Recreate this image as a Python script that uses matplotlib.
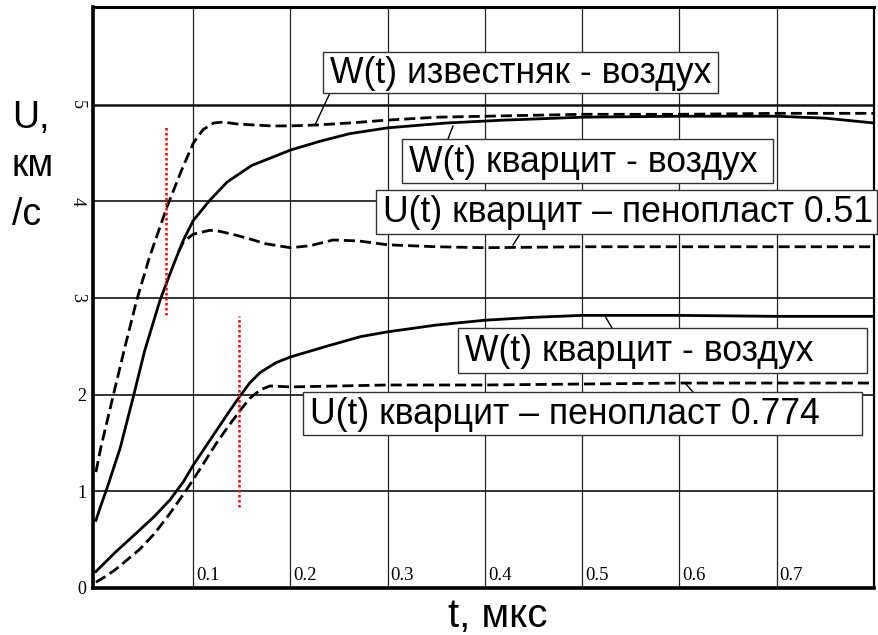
import matplotlib
matplotlib.use("Agg")
import matplotlib.pyplot as plt
from matplotlib.patches import Rectangle
from matplotlib.lines import Line2D

plt.rcParams["font.family"] = ["Liberation Sans", "DejaVu Sans"]

# W(t) limestone - air (dashed)
t_lime = [0, 0.005, 0.018, 0.030, 0.042, 0.055, 0.073, 0.088, 0.100, 0.110, 0.121,
          0.131, 0.145, 0.162, 0.180, 0.200, 0.228, 0.26, 0.30, 0.35, 0.40, 0.45,
          0.50, 0.60, 0.70, 0.80]
u_lime = [1.2, 1.45, 2.0, 2.5, 2.98, 3.42, 3.94, 4.32, 4.60, 4.74, 4.81,
          4.82, 4.80, 4.79, 4.78, 4.78, 4.79, 4.81, 4.84, 4.87, 4.88, 4.89,
          4.90, 4.90, 4.91, 4.91]

# W(t) quartzite - air, upper (solid)
t_qa1 = [0, 0.005, 0.012, 0.025, 0.039, 0.05, 0.066, 0.08, 0.09, 0.10, 0.117,
         0.135, 0.16, 0.20, 0.23, 0.261, 0.30, 0.36, 0.42, 0.50, 0.60, 0.70,
         0.75, 0.80]
u_qa1 = [0.7, 0.85, 1.05, 1.45, 2.0, 2.45, 2.98, 3.35, 3.6, 3.80, 4.01,
         4.2, 4.37, 4.53, 4.62, 4.70, 4.76, 4.81, 4.84, 4.87, 4.88, 4.88,
         4.86, 4.81]

# U(t) quartzite - foam 0.51 (dashed, branches off the solid curve)
t_qf1 = [0.085, 0.09, 0.10, 0.117, 0.127, 0.14, 0.155, 0.175, 0.20, 0.22,
         0.244, 0.27, 0.30, 0.35, 0.40, 0.50, 0.60, 0.70, 0.80]
u_qf1 = [3.48, 3.58, 3.66, 3.70, 3.69, 3.66, 3.62, 3.56, 3.52, 3.54,
         3.60, 3.59, 3.55, 3.53, 3.52, 3.53, 3.53, 3.53, 3.53]

# W(t) quartzite - air, lower (solid)
t_qa2 = [0, 0.01, 0.02, 0.032, 0.045, 0.06, 0.076, 0.09, 0.10, 0.112, 0.124,
         0.136, 0.147, 0.158, 0.169, 0.185, 0.20, 0.237, 0.272, 0.30, 0.35,
         0.40, 0.45, 0.50, 0.55, 0.60, 0.70, 0.80]
u_qa2 = [0.17, 0.27, 0.37, 0.48, 0.60, 0.74, 0.91, 1.10, 1.27, 1.45, 1.63,
         1.81, 1.97, 2.12, 2.23, 2.33, 2.39, 2.50, 2.60, 2.65, 2.72,
         2.77, 2.80, 2.82, 2.82, 2.82, 2.81, 2.81]

# U(t) quartzite - foam 0.774 (dashed)
t_qf2 = [0, 0.01, 0.02, 0.032, 0.045, 0.06, 0.076, 0.09, 0.10, 0.112, 0.124,
         0.136, 0.147, 0.158, 0.169, 0.179, 0.20, 0.25, 0.30, 0.40, 0.50,
         0.60, 0.70, 0.80]
u_qf2 = [0.06, 0.12, 0.19, 0.29, 0.40, 0.56, 0.77, 0.97, 1.12, 1.31, 1.50,
         1.67, 1.82, 1.96, 2.05, 2.09, 2.08, 2.09, 2.10, 2.10, 2.11,
         2.12, 2.12, 2.12]

# red dotted markers: (t, U from, U to)
markers = [(0.072, 2.82, 4.79), (0.147, 0.84, 2.81)]

x_ticks = [0.1, 0.2, 0.3, 0.4, 0.5, 0.6, 0.7]
y_ticks = [0, 1, 2, 3, 4, 5]

W, H = 879, 635


def fx(x):
    return x / W


def fy(y):
    return 1 - y / H


fig = plt.figure(figsize=(W / 100, H / 100), dpi=100)
ax = fig.add_axes([fx(93), fy(588), (874 - 93) / W, (588 - 7) / H])
ax.set_xlim(-0.003, 0.80)
ax.set_ylim(0, 6.01)

for x in x_ticks:
    ax.axvline(x, color="#222222", lw=0.9)
    ax.text(x + 0.003, 0.04, f"{x:.1f}", family="Liberation Serif",
            fontsize=13.5, ha="left", va="bottom")
for y in y_ticks[1:]:
    ax.axhline(y, color="#111111", lw=1.8 if y == 5 else 1.2)

dash = (4, 1.8)
ax.plot(t_lime, u_lime, color="black", lw=2, dashes=dash)
ax.plot(t_qa1, u_qa1, color="black", lw=2)
ax.plot(t_qf1, u_qf1, color="black", lw=2, dashes=dash)
ax.plot(t_qa2, u_qa2, color="black", lw=2)
ax.plot(t_qf2, u_qf2, color="black", lw=2, dashes=dash)

for t, u0, u1 in markers:
    ax.plot([t, t], [u0, u1], color="red", lw=1.8, ls=(0, (1, 1)))

ax.set_xticks([])
ax.set_yticks(y_ticks)
ax.set_yticklabels([str(v) for v in y_ticks], family="Liberation Serif",
                   fontsize=13)
ax.tick_params(axis="y", length=0, pad=5)
for lbl, v in zip(ax.get_yticklabels(), y_ticks):
    if v >= 3:
        lbl.set_rotation(-90)
        lbl.set_va("center")
for side, w in [("left", 2.6), ("bottom", 2.6), ("top", 2.2), ("right", 1.6)]:
    ax.spines[side].set_linewidth(w)

# labelled boxes: left, top, right, bottom (pixels)
boxes = [
    (323, 52, 718, 93, "W(t) известняк - воздух"),
    (402, 139, 773, 183, "W(t) кварцит - воздух"),
    (376, 190, 877, 234, "U(t) кварцит – пенопласт 0.51"),
    (458, 328, 867, 373, "W(t) кварцит - воздух"),
    (303, 392, 862, 435, "U(t) кварцит – пенопласт 0.774"),
]
for x0, y0, x1, y1, txt in boxes:
    fig.patches.append(Rectangle((fx(x0), fy(y1)), (x1 - x0) / W, (y1 - y0) / H,
                                 transform=fig.transFigure, facecolor="white",
                                 edgecolor="#333333", lw=1.0, zorder=5))
    fig.text(fx(x0 + 7), fy((y0 + y1) / 2 + 1), txt, fontsize=25.6,
             ha="left", va="center", zorder=6)

# short leader strokes from boxes to their curves
leaders = [((330, 93), (315, 125)), ((448, 139), (453, 126)),
           ((520, 234), (513, 245)), ((612, 328), (605, 316)),
           ((693, 392), (685, 383))]
for (xa, ya), (xb, yb) in leaders:
    fig.lines.append(Line2D([fx(xa), fx(xb)], [fy(ya), fy(yb)],
                            transform=fig.transFigure, color="black", lw=1.0))

fig.text(fx(12), fy(225), "U,\nкм\n/с", fontsize=27, ha="left", va="baseline",
         linespacing=1.45)
fig.text(fx(498), fy(627), "t, мкс", fontsize=29, ha="center", va="baseline")

fig.savefig("out.png", dpi=100)
